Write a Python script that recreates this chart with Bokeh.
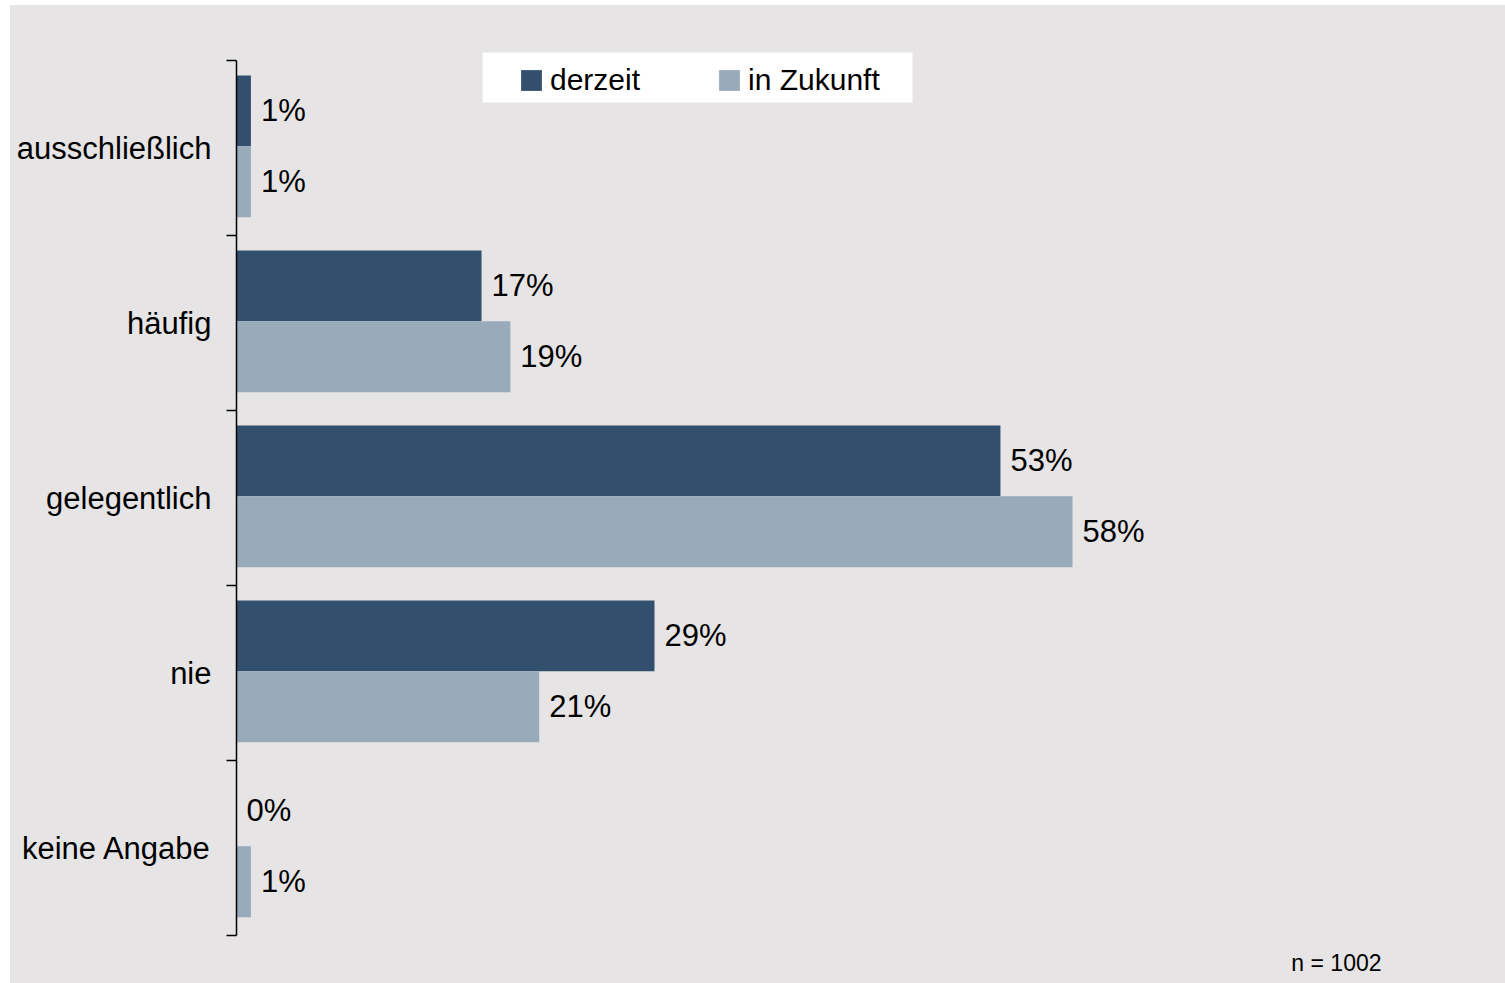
from bokeh.plotting import figure
from bokeh.models import (Range1d, FixedTicker, Legend, LegendItem, BoxAnnotation,
                          Label, ColumnDataSource)
from bokeh.embed import file_html
from bokeh.resources import INLINE
from bokeh.core.properties import value

# ---- data ----
categories = ["ausschließlich", "häufig", "gelegentlich", "nie", "keine Angabe"]
derzeit = [1, 17, 53, 29, 0]
zukunft = [1, 19, 58, 21, 1]
series_names = ["derzeit", "in Zukunft"]
sample_note = "n = 1002"

# ---- style ----
BG = "#e6e4e5"
DARK = "#32506e"
LIGHT = "#99aabb"
FONT = "Liberation Sans"
FS = "31px"

PX_PER_PCT = 14.414
PX_PER_CAT = 175.0
FRAME_W = 1254
TOP_EXTRA = 20
BOTTOM_EXTRA = 40
n = len(categories)

x_end = FRAME_W / PX_PER_PCT
y_range = Range1d(start=n + BOTTOM_EXTRA / PX_PER_CAT, end=-TOP_EXTRA / PX_PER_CAT)

p = figure(width=1495, height=978, x_range=Range1d(0, x_end), y_range=y_range,
           output_backend="svg", toolbar_location=None,
           min_border_left=226, min_border_right=15, min_border_top=35, min_border_bottom=8,
           x_axis_location=None)
p.margin = (5, 0, 0, 10)
p.styles = {"background-color": BG}
p.background_fill_alpha = 0
p.border_fill_alpha = 0
p.outline_line_color = None
p.xgrid.grid_line_color = None
p.ygrid.grid_line_color = None

BAR_H = 0.405
src = ColumnDataSource(dict(
    y_dark=[i + 0.288 for i in range(n)],
    y_light=[i + 0.693 for i in range(n)],
    derzeit=derzeit,
    zukunft=zukunft,
    t_dark=[f"{v}%" for v in derzeit],
    t_light=[f"{v}%" for v in zukunft],
))

r1 = p.hbar(y="y_dark", left=0, right="derzeit", height=BAR_H, source=src,
            fill_color=DARK, line_color=None)
r2 = p.hbar(y="y_light", left=0, right="zukunft", height=BAR_H, source=src,
            fill_color=LIGHT, line_color=None)

p.text(x="derzeit", y="y_dark", text="t_dark", source=src, x_offset=10,
       text_baseline="middle", text_align="left", text_font=value(FONT),
       text_font_size=FS, text_color="black")
p.text(x="zukunft", y="y_light", text="t_light", source=src, x_offset=10,
       text_baseline="middle", text_align="left", text_font=value(FONT),
       text_font_size=FS, text_color="black")

# axis
ax = p.yaxis[0]
ax.ticker = FixedTicker(ticks=[i + 0.5 for i in range(n)], minor_ticks=list(range(n + 1)))
ax.major_label_overrides = {i + 0.5: c for i, c in enumerate(categories)}
ax.bounds = (0, n)
ax.major_tick_out = 0
ax.major_tick_in = 0
ax.minor_tick_out = 10
ax.minor_tick_in = 0
ax.minor_tick_line_color = "black"
ax.minor_tick_line_width = 1.5
ax.axis_line_color = "black"
ax.axis_line_width = 1.5
ax.major_label_standoff = 15
ax.major_label_text_font = FONT
ax.major_label_text_font_size = FS
ax.major_label_text_color = "black"

# legend box (white)
box = BoxAnnotation(left=(482 - 236) / PX_PER_PCT, right=(912 - 236) / PX_PER_PCT,
                    top=(52 - 60) / PX_PER_CAT, bottom=(102 - 60) / PX_PER_CAT,
                    fill_color="white", fill_alpha=1.0, line_color=None)
p.add_layout(box)

legend = Legend(items=[LegendItem(label=series_names[0], renderers=[r1]),
                       LegendItem(label=series_names[1], renderers=[r2])],
                orientation="horizontal", location=(282, 878), padding=0, margin=0,
                spacing=76, label_standoff=6, glyph_width=26, glyph_height=26,
                label_text_font=FONT, label_text_font_size="30px",
                label_text_color="black",
                background_fill_alpha=0, border_line_color=None)
p.add_layout(legend)

note = Label(x=(1381 - 236) / PX_PER_PCT, y=(962 - 60) / PX_PER_CAT, text=sample_note,
             text_align="right", text_baseline="middle", text_font=FONT,
             text_font_size="23px", text_color="black")
p.add_layout(note)

open("out.html", "w").write(file_html(p, INLINE))
